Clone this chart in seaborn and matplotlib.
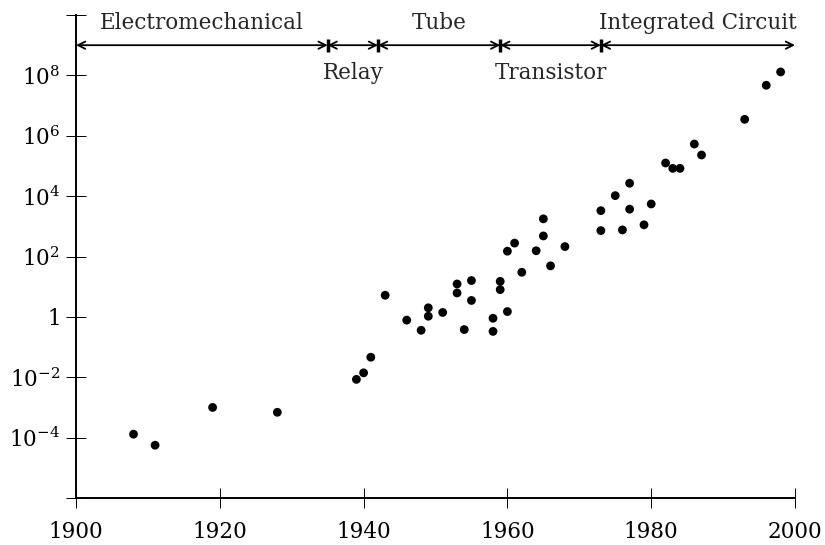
import matplotlib
matplotlib.use("Agg")
import matplotlib.pyplot as plt
import matplotlib.ticker as mticker
import numpy as np
import pandas as pd
import seaborn as sns

# data
years = [1908, 1911, 1919, 1928, 1939, 1940, 1941, 1943, 1946, 1948,
         1949, 1949, 1951, 1953, 1953, 1954, 1955, 1955, 1958, 1958,
         1959, 1959, 1960, 1960, 1961, 1962, 1964, 1965, 1965, 1966,
         1968, 1973, 1973, 1975, 1976, 1977, 1977, 1979, 1980, 1982,
         1983, 1984, 1986, 1987, 1993, 1996, 1998]
values = [1.3e-4, 5.6e-5, 1.0e-3, 6.9e-4, 8.5e-3, 1.4e-2, 4.6e-2, 5.2, 0.78, 0.36,
          2.0, 1.05, 1.4, 12.3, 6.2, 0.38, 16, 3.5, 0.9, 0.33,
          15, 8, 1.5, 150, 278, 30, 155, 1770, 480, 49,
          213, 3300, 720, 10400, 760, 26700, 3700, 1120, 5500, 1.25e5,
          8.3e4, 8.3e4, 5.3e5, 2.3e5, 3.5e6, 4.7e7, 1.3e8]

era_bounds = [1900, 1935, 1942, 1959, 1973, 2000]
era_names = ['Electromechanical', 'Relay', 'Tube', 'Transistor', 'Integrated Circuit']
era_above = [True, False, True, False, True]
arrow_level = 1e9

xticks = [1900, 1920, 1940, 1960, 1980, 2000]
ytick_exps = [-6, -4, -2, 0, 2, 4, 6, 8, 10]

sns.set_style('ticks')
plt.rcParams['font.family'] = ['DejaVu Serif']
plt.rcParams['mathtext.fontset'] = 'dejavuserif'

df = pd.DataFrame({'year': years, 'value': values})

fig = plt.figure(figsize=(8.25, 5.45), dpi=100)
ax = fig.add_axes([76 / 825, 1 - 498 / 545, (795 - 76) / 825, (498 - 15) / 545])

sns.scatterplot(data=df, x='year', y='value', ax=ax, color='black',
                s=40, edgecolor='none', legend=False, zorder=5)

ax.set_yscale('log')
ax.set_xlim(1900, 2000)
ax.set_ylim(1e-6, 1e10)
ax.set_xticks(xticks)
ax.set_xticklabels([str(x) for x in xticks])
ax.set_yticks([10.0 ** e for e in ytick_exps])
ax.yaxis.set_minor_locator(mticker.NullLocator())


def _ylab(e):
    if e in (ytick_exps[0], ytick_exps[-1]):
        return ''
    if e == 0:
        return '$1$'
    return '$10^{%d}$' % e


ax.set_yticklabels([_ylab(e) for e in ytick_exps])
ax.set_xlabel('')
ax.set_ylabel('')

for side in ['top', 'right']:
    ax.spines[side].set_visible(False)
for side in ['left', 'bottom']:
    ax.spines[side].set_linewidth(1.4)
    ax.spines[side].set_color('black')
ax.tick_params(axis='both', direction='inout', length=15, width=0.7,
               color='black', labelsize=15.5, labelcolor='black')
ax.tick_params(axis='x', pad=9)
ax.tick_params(axis='y', pad=4)

# era arrows
for i, name in enumerate(era_names):
    x0, x1 = era_bounds[i], era_bounds[i + 1]
    ax.annotate('', xy=(x1, arrow_level), xytext=(x0, arrow_level),
                arrowprops=dict(arrowstyle='<->', lw=1.3, color='black',
                                shrinkA=0, shrinkB=0, mutation_scale=13),
                annotation_clip=False)
    xm = (x0 + x1) / 2
    if era_above[i]:
        ax.annotate(name, xy=(xm, arrow_level), xytext=(0, 8),
                    textcoords='offset points', ha='center', va='bottom',
                    fontsize=15.5, annotation_clip=False)
    else:
        ax.annotate(name, xy=(xm, arrow_level), xytext=(0, -12),
                    textcoords='offset points', ha='center', va='top',
                    fontsize=15.5, annotation_clip=False)

for xb in era_bounds[1:-1]:
    ax.plot([xb, xb], [arrow_level / 10 ** 0.22, arrow_level * 10 ** 0.22],
            color='black', lw=2.5, solid_capstyle='butt', clip_on=False)

fig.savefig('out.png', dpi=100)
plt.close(fig)
